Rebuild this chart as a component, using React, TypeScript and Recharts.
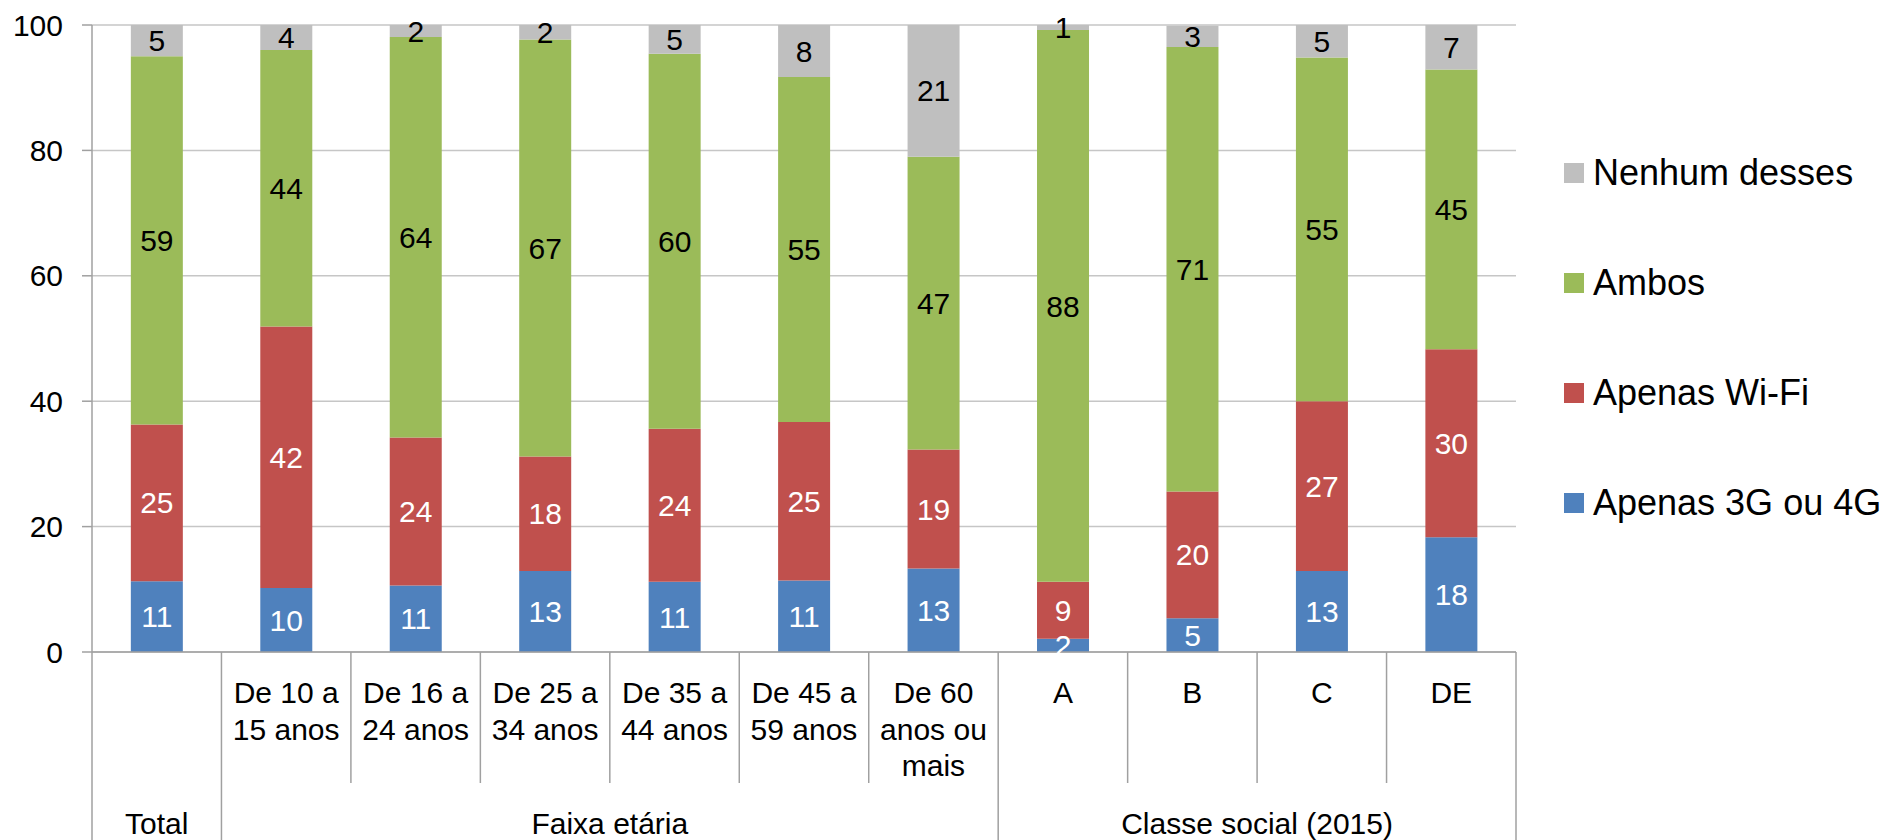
import React from 'react';
import { BarChart, Bar, XAxis, YAxis, CartesianGrid, LabelList, Legend } from 'recharts';

const categories = [
  'Total',
  'De 10 a 15 anos',
  'De 16 a 24 anos',
  'De 25 a 34 anos',
  'De 35 a 44 anos',
  'De 45 a 59 anos',
  'De 60 anos ou mais',
  'A',
  'B',
  'C',
  'DE',
];
const tickLabels = [
  '',
  'De 10 a\n15 anos',
  'De 16 a\n24 anos',
  'De 25 a\n34 anos',
  'De 35 a\n44 anos',
  'De 45 a\n59 anos',
  'De 60\nanos ou\nmais',
  'A',
  'B',
  'C',
  'DE',
];
const groups = [
  'Total',
  'Faixa etária',
  'Faixa etária',
  'Faixa etária',
  'Faixa etária',
  'Faixa etária',
  'Faixa etária',
  'Classe social (2015)',
  'Classe social (2015)',
  'Classe social (2015)',
  'Classe social (2015)',
];

const apenas3g4g = [11.3, 10.2, 10.6, 12.9, 11.2, 11.4, 13.3, 2.1, 5.4, 12.9, 18.3];
const apenasWifi = [25, 41.7, 23.6, 18.3, 24.4, 25.3, 19, 9.1, 20.2, 27.1, 30];
const ambos = [58.7, 44.1, 63.9, 66.5, 59.8, 55, 46.7, 88, 70.9, 54.8, 44.6];
const nenhum = [5, 4, 1.9, 2.3, 4.6, 8.3, 21, 0.8, 3.4, 5.2, 7.1];

const yTicks = [0, 20, 40, 60, 80, 100];

const seriesNames = ['Apenas 3G ou 4G', 'Apenas Wi-Fi', 'Ambos', 'Nenhum desses'];
const seriesKeys = ['g34', 'wifi', 'ambos', 'nenhum'];
const seriesColors = ['#4F81BD', '#C0504D', '#9BBB59', '#BFBFBF'];
const labelColors = ['#FFFFFF', '#FFFFFF', '#000000', '#000000'];

const data = categories.map((name, i) => ({
  name,
  g34: apenas3g4g[i],
  wifi: apenasWifi[i],
  ambos: ambos[i],
  nenhum: nenhum[i],
}));

const W = 1895;
const H = 840;
const MARGIN = { top: 25, right: 379, bottom: 0, left: 0 };
const YAXIS_W = 92;
const XAXIS_H = 188;
const PLOT_W = W - MARGIN.left - MARGIN.right - YAXIS_W;
const BAND = PLOT_W / categories.length;
const FONT = '"Liberation Sans", Arial, Helvetica, sans-serif';
const SEP_COLOR = '#A0A0A0';

const CategoryTick = (props: any) => {
  const { x, y, index } = props;
  const half = BAND / 2;
  const left = x - half;
  const right = x + half;
  const isGroupStart = index === 0 || groups[index] !== groups[index - 1];
  const isLast = index === categories.length - 1;
  const lines = tickLabels[index] ? tickLabels[index].split('\n') : [];
  let groupLabel: any = null;
  if (isGroupStart) {
    const size = groups.filter((g) => g === groups[index]).length;
    const cx = left + (size * BAND) / 2;
    groupLabel = (
      <text x={cx} y={y + 182} textAnchor="middle" fontSize={30} fill="#000" style={{ fontFamily: FONT }}>
        {groups[index]}
      </text>
    );
  }
  return (
    <g>
      <line x1={left} x2={left} y1={y} y2={isGroupStart ? H : y + 131} stroke={SEP_COLOR} strokeWidth={1.5} />
      {isLast && <line x1={right} x2={right} y1={y} y2={H} stroke={SEP_COLOR} strokeWidth={1.5} />}
      {lines.length > 0 && (
        <text textAnchor="middle" fontSize={30} fill="#000" style={{ fontFamily: FONT }}>
          {lines.map((l, i) => (
            <tspan key={i} x={x} y={y + 51 + i * 36.7}>
              {l}
            </tspan>
          ))}
        </text>
      )}
      {groupLabel}
    </g>
  );
};

const LegendContent = () => (
  <div style={{ fontFamily: FONT }}>
    {[3, 2, 1, 0].map((i) => (
      <div key={i} style={{ display: 'flex', alignItems: 'center', height: 110 }}>
        <div style={{ width: 20, height: 20, background: seriesColors[i], marginRight: 9 }} />
        <span style={{ fontSize: 36, color: '#000', whiteSpace: 'nowrap' }}>{seriesNames[i]}</span>
      </div>
    ))}
  </div>
);

export default function App() {
  return (
    <div style={{ position: 'absolute', left: 0, top: 0, width: W, height: H, background: '#fff' }}>
      <BarChart width={W} height={H} data={data} margin={MARGIN} barCategoryGap="30%">
        <CartesianGrid vertical={false} stroke="#C6C6C6" strokeWidth={1.5} />
        <XAxis
          dataKey="name"
          height={XAXIS_H}
          interval={0}
          tickLine={false}
          tickSize={0}
          tickMargin={0}
          axisLine={{ stroke: SEP_COLOR, strokeWidth: 1.5 }}
          tick={<CategoryTick />}
        />
        <YAxis
          width={YAXIS_W}
          domain={[0, 100]}
          ticks={yTicks}
          interval={0}
          tickSize={10}
          tickMargin={19}
          tickLine={{ stroke: SEP_COLOR, strokeWidth: 1.5 }}
          axisLine={{ stroke: SEP_COLOR, strokeWidth: 1.5 }}
          tick={{ fontSize: 30, fill: '#000', fontFamily: FONT }}
        />
        <Legend
          layout="vertical"
          align="center"
          verticalAlign="middle"
          wrapperStyle={{ position: 'absolute', left: 1564, top: 118, width: 331 }}
          content={() => <LegendContent />}
        />
        {seriesKeys.map((k, i) => (
          <Bar key={k} dataKey={k} name={seriesNames[i]} stackId="s" fill={seriesColors[i]} isAnimationActive={false}>
            <LabelList
              dataKey={k}
              position="center"
              fill={labelColors[i]}
              fontSize={30}
              fontFamily={FONT}
              formatter={(v: any) => Math.round(Number(v))}
            />
          </Bar>
        ))}
      </BarChart>
    </div>
  );
}
